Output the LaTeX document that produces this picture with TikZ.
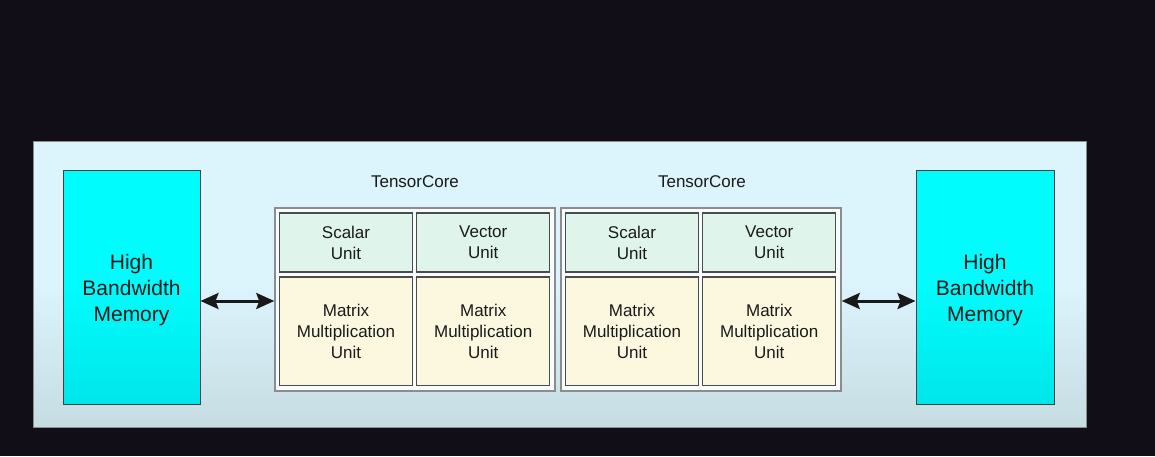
\documentclass[tikz,border=0pt]{standalone}
\usepackage{fontspec}
\setmainfont{Liberation Sans}
\usetikzlibrary{arrows.meta}
\definecolor{bgdark}{HTML}{110E18}
\definecolor{panelA}{HTML}{DCF4FC}
\definecolor{panelB}{HTML}{C6DCE3}
\definecolor{cyanA}{HTML}{00FCFC}
\definecolor{cyanB}{HTML}{00E6EA}
\definecolor{mint}{HTML}{DFF5EC}
\definecolor{cream}{HTML}{FCF8E0}
\definecolor{txt}{HTML}{1A1A1A}
\begin{document}
\begin{tikzpicture}[x=1pt,y=-1pt,
  panel/.style={draw=black!45,line width=1pt,shade,top color=panelA,bottom color=panelB,middle color=panelA,minimum width=1053pt,minimum height=286pt,inner sep=0pt},
  hbm/.style={draw=black!75,line width=1pt,shade,top color=cyanA,bottom color=cyanB,middle color=cyanA,minimum width=137pt,minimum height=234pt,inner sep=0pt},
  hbmtext/.style={align=center,text=txt,inner sep=0pt,font=\fontsize{21}{26}\selectfont},
  tcbox/.style={draw=black!45,line width=1.5pt,fill=white!97!cyan,minimum width=280pt,minimum height=183pt,inner sep=0pt},
  unit/.style={draw=black!70,line width=1.2pt,minimum width=133pt,inner sep=0pt,align=center,text=txt,font=\fontsize{17}{21}\selectfont},
  su/.style={unit,fill=mint,minimum height=59pt},
  mu/.style={unit,fill=cream,minimum height=108.5pt},
  tclabel/.style={text=txt,font=\fontsize{17}{21}\selectfont,inner sep=0pt},
  arr/.style={draw=black!90,line width=3pt,{Stealth[length=18pt,width=16pt,inset=3pt]}-{Stealth[length=18pt,width=16pt,inset=3pt]}}
]
\fill[bgdark] (0,0) rectangle (1155,456);
\useasboundingbox (0,0) rectangle (1155,456);
\node[panel] (panel) at (559.5,284) {};
\node[hbm] (hbmL) at (131.5,287) {};
\node[hbm,minimum width=138pt] (hbmR) at (985,287) {};
\node[hbmtext] (hbmLt) at (131.5,290.5) {High\\Bandwidth\\Memory};
\node[hbmtext] (hbmRt) at (985,290.5) {High\\Bandwidth\\Memory};
\node[tcbox] (tc1) at (415,299.5) {};
\node[tcbox] (tc2) at (701,299.5) {};
\node[tclabel] (lab1) at (415,182) {TensorCore};
\node[tclabel] (lab2) at (702,182) {TensorCore};
\node[su] (s1) at (346,242.5) {Scalar\\Unit};
\node[su] (v1) at (483.25,242.5) {Vector\\Unit};
\node[mu] (m1) at (346,331.25) {Matrix\\Multiplication\\Unit};
\node[mu] (n1) at (483.25,331.25) {Matrix\\Multiplication\\Unit};
\node[su] (s2) at (632,242.5) {Scalar\\Unit};
\node[su] (v2) at (769.25,242.5) {Vector\\Unit};
\node[mu] (m2) at (632,331.25) {Matrix\\Multiplication\\Unit};
\node[mu] (n2) at (769.25,331.25) {Matrix\\Multiplication\\Unit};
\draw[arr] ([yshift=-1.5pt]hbmL.east |- tc1.west) -- ([yshift=-1.5pt]tc1.west);
\draw[arr] ([yshift=-1.5pt]tc2.east) -- ([yshift=-1.5pt]hbmR.west |- tc2.east);
\end{tikzpicture}
\end{document}
